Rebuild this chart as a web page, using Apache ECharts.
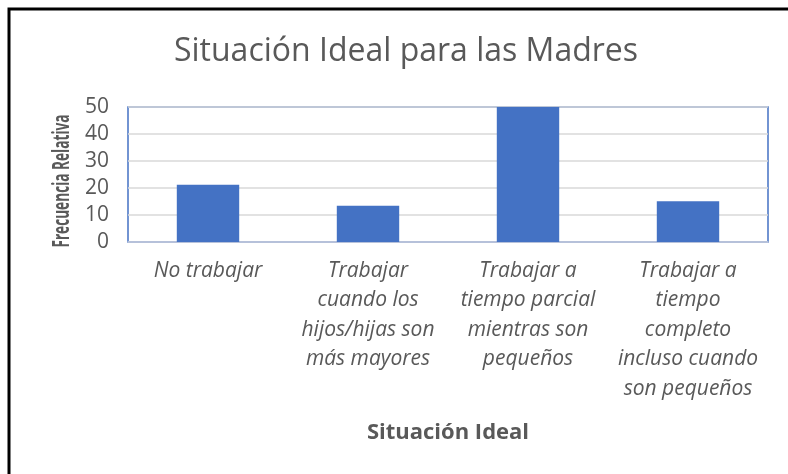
<!DOCTYPE html>
<html>
<head>
<meta charset="utf-8">
<script src="https://cdn.jsdelivr.net/npm/echarts@6/dist/echarts.min.js"></script>
<style>
  html, body { margin: 0; padding: 0; background: #fff; }
  #chart { width: 788px; height: 474px; }
</style>
</head>
<body>
<div id="chart"></div>
<script>
// datos
const categories = [
  'No trabajar',
  'Trabajar\ncuando los\nhijos/hijas son\nmás mayores',
  'Trabajar a\ntiempo parcial\nmientras son\npequeños',
  'Trabajar a\ntiempo\ncompleto\nincluso cuando\nson pequeños'
]
const frecuencias = [21.2, 13.4, 50.3, 15.1]
const yTicks = [0, 10, 20, 30, 40, 50]

const FONT = '"Open Sans", Lato, sans-serif'
const GRAY = '#595959'

const myChart = echarts.init(document.getElementById('chart'))
myChart.setOption({
  backgroundColor: '#fff',
  animation: false,
  title: {
    text: 'Situación Ideal para las Madres',
    left: 401,
    top: 31,
    textAlign: 'center',
    textStyle: { fontFamily: FONT, fontSize: 32, fontWeight: 'normal', color: GRAY }
  },
  graphic: [
    // marco exterior (solo izquierda y arriba visibles)
    { type: 'polyline', shape: { points: [[9, 474], [9, 9], [788, 9]] },
      style: { stroke: '#000', lineWidth: 3, fill: null } },
    // título del eje Y (más estrecho que la fuente normal)
    { type: 'text', x: 62, y: 181, rotation: Math.PI / 2, scaleX: 0.58,
      style: { text: 'Frecuencia Relativa', font: 'bold 23.5px ' + FONT, fill: GRAY,
        align: 'center', verticalAlign: 'middle' } }
  ],
  grid: {
    left: 128, top: 107, right: 20, bottom: 232,
    show: true, borderColor: '#4472C4', borderWidth: 1.5
  },
  xAxis: {
    type: 'category',
    data: categories,
    name: 'Situación Ideal',
    nameLocation: 'middle',
    nameGap: 180,
    nameTextStyle: { fontFamily: FONT, fontSize: 22, fontWeight: 'bold', color: GRAY },
    axisTick: { show: false },
    axisLine: { lineStyle: { color: '#b4c0dc', width: 1.5 } },
    axisLabel: {
      interval: 0,
      margin: 14,
      fontFamily: FONT,
      fontSize: 21,
      fontStyle: 'italic',
      lineHeight: 29.5,
      color: GRAY,
      align: 'center'
    }
  },
  yAxis: {
    type: 'value',
    min: yTicks[0],
    max: yTicks[yTicks.length - 1],
    interval: yTicks[1] - yTicks[0],
    axisLine: { show: false },
    axisTick: { show: false },
    axisLabel: { margin: 19, fontFamily: FONT, fontSize: 21, color: GRAY },
    splitLine: { lineStyle: { color: '#d9d9d9', width: 1.5 } }
  },
  series: [{
    type: 'bar',
    data: frecuencias,
    barWidth: '39%',
    itemStyle: { color: '#4472C4' }
  }]
})
</script>
</body>
</html>
